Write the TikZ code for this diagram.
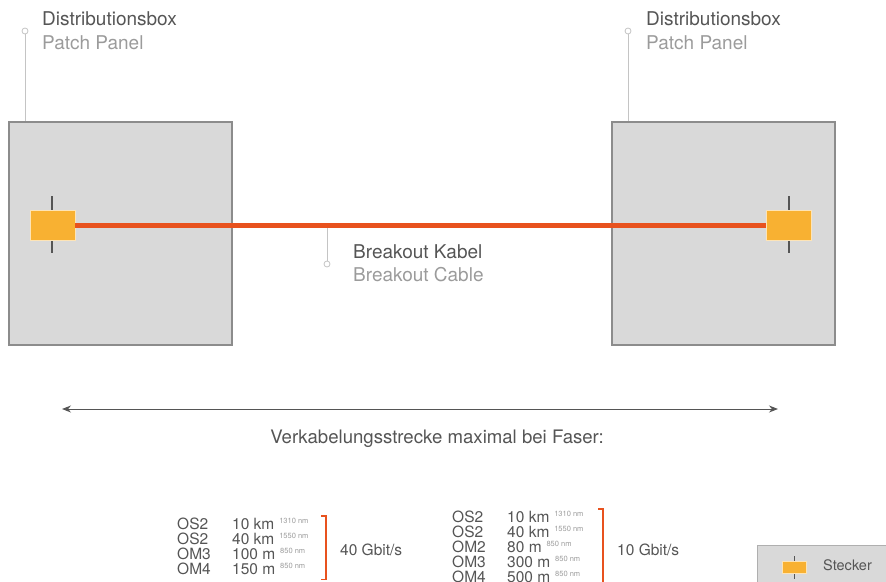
\documentclass[tikz,border=0pt]{standalone}
\usepackage{fontspec}
\setmainfont{TeX Gyre Heros}
\usetikzlibrary{arrows.meta}
\definecolor{boxgray}{HTML}{D9D9D9}
\definecolor{edgegray}{HTML}{8C8C8C}
\definecolor{textdark}{HTML}{555555}
\definecolor{textlight}{HTML}{9B9B9B}
\definecolor{cablered}{HTML}{E8521E}
\definecolor{plugyellow}{HTML}{F8B132}
\definecolor{leadergray}{HTML}{C4C4C4}

\begin{document}
\begin{tikzpicture}[x=1pt, y=-1pt, >={Stealth[length=9pt,width=7pt]},
	panel/.style={draw=edgegray, line width=1.5pt, fill=boxgray, minimum width=223pt, minimum height=223pt, inner sep=0pt, anchor=north west},
	plugbox/.style={draw=plugyellow!35!white, line width=0.8pt, fill=plugyellow, minimum width=45pt, minimum height=30pt, inner sep=0pt},
	stem/.style={draw=textdark, line width=1.5pt},
	pin/.style={draw=leadergray, line width=1pt},
	pindot/.style={circle, draw=leadergray, line width=0.8pt, fill=white, minimum size=6pt, inner sep=0pt},
	title/.style={font=\fontsize{19}{22}\selectfont, text=textdark, anchor=base west, inner sep=0pt},
	subtitle/.style={title, text=textlight},
	row/.style={font=\fontsize{15.5}{15}\selectfont, text=textdark, anchor=base west, inner sep=0pt},
	wavelength/.style={font=\fontsize{7.5}{8}\selectfont, text=textlight, anchor=base west, inner sep=0pt},
	bracket/.style={draw=cablered, line width=1.5pt}]
	\useasboundingbox (0,0) rectangle (886,581);
	% distribution boxes
	\node[panel] (boxL) at (8,121) {};
	\node[panel] (boxR) at (611,121) {};
	\draw[stem] (52,196) -- (52,253);
	\draw[stem] (789,196) -- (789,253);
	\node[plugbox] (plugL) at (52.5,225) {};
	\node[plugbox] (plugR) at (789,225) {};
	\draw[cablered, line width=5pt] (plugL.east) -- (plugR.west);
	% labels with leader lines
	\node[pindot] (dotL) at (25,31) {};
	\draw[pin] (dotL.south) -- (dotL.south |- boxL.north);
	\node[pindot] (dotR) at (628,31) {};
	\draw[pin] (dotR.south) -- (dotR.south |- boxR.north);
	\node[title] (distL) at (42,25) {Distributionsbox};
	\node[subtitle] (patchL) at (42,49) {Patch Panel};
	\node[title] (distR) at (646,25) {Distributionsbox};
	\node[subtitle] (patchR) at (646,49) {Patch Panel};
	\coordinate (cableC) at (327,227.5);
	\node[pindot] (dotC) at (327,264) {};
	\draw[pin] (dotC.north) -- (cableC);
	\node[title] (breakDE) at (353,258) {Breakout Kabel};
	\node[subtitle] (breakEN) at (353,281) {Breakout Cable};
	% span
	\coordinate (spanL) at (62,409);
	\coordinate (spanR) at (778,409);
	\draw[<->, textdark, line width=1pt] (spanL) -- (spanR);
	\node[title, anchor=base, font=\fontsize{18.6}{22}\selectfont] (spanlabel) at (437,443) {Verkabelungsstrecke maximal bei Faser:};
	% 40 Gbit/s
	\foreach \i/\fib/\len/\wl in {0/OS2/10 km/1310 nm, 1/OS2/40 km/1550 nm, 2/OM3/100 m/850 nm, 3/OM4/150 m/850 nm} {
		\node[row] (fibL\i) at (177,529+15*\i) {\fib};
		\node[row] (lenL\i) at (232,529+15*\i) {\len};
		\node[wavelength] (wlL\i) at ([xshift=4.5pt, yshift=6pt]lenL\i.base east) {\wl};
	}
	\draw[bracket] (321,516) -- (326,516) -- (326,579.5) -- (321,579.5);
	\node[row] (rateL) at (340,555.5) {40 Gbit/s};
	% 10 Gbit/s
	\foreach \i/\fib/\len/\wl in {0/OS2/10 km/1310 nm, 1/OS2/40 km/1550 nm, 2/OM2/80 m/850 nm, 3/OM3/300 m/850 nm, 4/OM4/500 m/850 nm} {
		\node[row] (fibR\i) at (452,522+15*\i) {\fib};
		\node[row] (lenR\i) at (507,522+15*\i) {\len};
		\node[wavelength] (wlR\i) at ([xshift=4.5pt, yshift=6pt]lenR\i.base east) {\wl};
	}
	\draw[bracket] (598,509) -- (603,509) -- (603,590);
	\node[row] (rateR) at (617,555.5) {10 Gbit/s};
	% legend
	\node[draw=edgegray!70, line width=1pt, fill=boxgray, minimum width=140pt, minimum height=50pt, inner sep=0pt, anchor=north west] (legend) at (757,545) {};
	\draw[stem, line width=1pt] (794,556) -- (794,579);
	\node[plugbox, minimum width=24pt, minimum height=12pt] (plugkey) at (794,567) {};
	\node[row, font=\fontsize{14.5}{15}\selectfont] (plugtext) at (823,570.5) {Stecker};
\end{tikzpicture}
\end{document}
